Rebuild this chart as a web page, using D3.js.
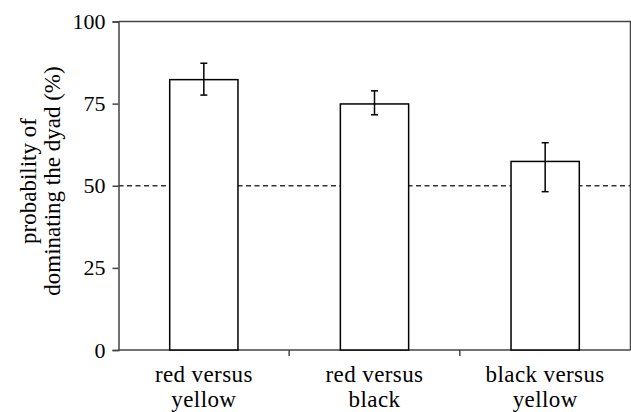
<!DOCTYPE html>
<html><head><meta charset="utf-8">
<script src="https://cdn.jsdelivr.net/npm/d3@7"></script>
<style>body{margin:0;background:#fff}svg{display:block}</style>
</head><body><svg id="c" width="631" height="412"></svg>
<script>
const categories = [["red versus","yellow"],["red versus","black"],["black versus","yellow"]];
const values = [82.3, 74.9, 57.4];
const errLow = [77.6, 71.6, 48.2];
const errHigh = [87.3, 78.9, 63.1];
const yTicks = [0, 25, 50, 75, 100];
const refLine = 50;
const yLabel = ["probability of", "dominating the dyad (%)"];

const FONT = "Liberation Serif";
const svg = d3.select("#c");
const m = {l:118.5, r:630.5, t:21.5, b:350};
const x = d3.scaleBand().domain(d3.range(categories.length)).range([m.l, m.r]).paddingInner(0.6).paddingOuter(0.3);
const xb = d3.scaleBand().domain(d3.range(categories.length)).range([m.l, m.r]);
const y = d3.scaleLinear().domain([0,100]).range([m.b, m.t]);
function st(sel, fs){ return sel.attr("font-family",FONT).attr("font-size",fs).attr("fill","#000"); }

// frame top/right
svg.append("path").attr("d",`M${m.l},${m.t}H${m.r}V${m.b}`).attr("fill","none").attr("stroke","#444").attr("stroke-width",1.5);

// y axis
const ya = svg.append("g").attr("transform",`translate(${m.l},0)`)
  .call(d3.axisLeft(y).tickValues(yTicks).tickSize(6).tickPadding(7));
ya.attr("font-family",FONT).attr("font-size",22);
ya.select(".domain").attr("stroke","#444").attr("stroke-width",1.5);
ya.selectAll(".tick line").attr("stroke","#444").attr("stroke-width",1.5);
st(ya.selectAll("text"), 22);

// x axis
const xa = svg.append("g").attr("transform",`translate(0,${m.b})`).attr("font-family",FONT).attr("font-size",23);
xa.append("line").attr("x1",m.l).attr("x2",m.r).attr("y1",0).attr("y2",0).attr("stroke","#444").attr("stroke-width",1.5);
xa.selectAll("line.t").data(d3.range(1,categories.length)).join("line").attr("class","t")
  .attr("x1",d=>xb(d)).attr("x2",d=>xb(d)).attr("y1",0).attr("y2",6).attr("stroke","#444").attr("stroke-width",1.5);
categories.forEach((c,i)=>{
  const cx = x(i)+x.bandwidth()/2;
  const t = st(xa.append("text").attr("text-anchor","middle").attr("x",cx).attr("y",32), 23).attr("letter-spacing",0.4);
  c.forEach((s,j)=>t.append("tspan").attr("x",cx).attr("dy",j?25:0).text(s));
});

// dashed line
svg.append("line").attr("x1",m.l).attr("x2",m.r).attr("y1",y(refLine)).attr("y2",y(refLine))
  .attr("stroke","#333").attr("stroke-width",1.3).attr("stroke-dasharray","5,3.5");

// bars
svg.selectAll("rect.bar").data(values).join("rect").attr("class","bar")
  .attr("x",(d,i)=>x(i)).attr("width",x.bandwidth()).attr("y",d=>y(d)).attr("height",d=>y(0)-y(d))
  .attr("fill","#fff").attr("stroke","#000").attr("stroke-width",1.5);

// error bars
const eg = svg.selectAll("g.err").data(values).join("g").attr("class","err");
eg.append("line").attr("x1",(d,i)=>x(i)+x.bandwidth()/2).attr("x2",(d,i)=>x(i)+x.bandwidth()/2)
  .attr("y1",(d,i)=>y(errLow[i])).attr("y2",(d,i)=>y(errHigh[i])).attr("stroke","#000").attr("stroke-width",1.5);
[errLow, errHigh].forEach(arr=>{
  eg.append("line").attr("x1",(d,i)=>x(i)+x.bandwidth()/2-3.5).attr("x2",(d,i)=>x(i)+x.bandwidth()/2+3.5)
    .attr("y1",(d,i)=>y(arr[i])).attr("y2",(d,i)=>y(arr[i])).attr("stroke","#000").attr("stroke-width",1.5);
});

// y label
const yl = st(svg.append("text").attr("transform",`translate(36,181) rotate(-90)`).attr("text-anchor","middle"), 23);
yLabel.forEach((s,j)=>yl.append("tspan").attr("x",0).attr("dy",j?24:0).text(s));
</script></body></html>
